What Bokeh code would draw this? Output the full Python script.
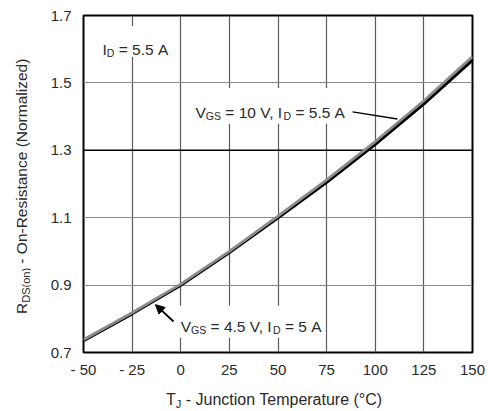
from bokeh.plotting import figure
from bokeh.models import Range1d, FixedTicker, Label, Arrow, NormalHead, Span, Div
from bokeh.layouts import column, row
from bokeh.embed import file_html
from bokeh.resources import INLINE

# ---- data ----
temps = [-50, -25, 0, 25, 50, 75, 100, 125, 150]
r_vgs10 = [0.735, 0.815, 0.900, 0.997, 1.100, 1.205, 1.318, 1.438, 1.568]
r_vgs45 = [0.738, 0.818, 0.903, 1.000, 1.105, 1.212, 1.326, 1.447, 1.578]
x_ticks = [-50, -25, 0, 25, 50, 75, 100, 125, 150]
x_tick_labels = ["- 50", "- 25", "0", "25", "50", "75", "100", "125", "150"]
y_ticks = [0.7, 0.9, 1.1, 1.3, 1.5, 1.7]
y_tick_labels = ["0.7", "0.9", "1.1", "1.3", "1.5", "1.7"]
x_title = ("T", "J", " - Junction Temperature (°C)")
y_title = ("R", "DS(on)", " - On-Resistance (Normalized)")

FONT = "Liberation Sans"
TEXT = "#2a2a2a"
NB = "\u00a0"

W = {' ': .278, NB: .278, '-': .333, '=': .584, '.': .278, ',': .278, '(': .333,
     ')': .333, '°': .4, 'A': .667, 'C': .722, 'D': .722, 'G': .778, 'I': .278,
     'J': .5, 'N': .722, 'O': .778, 'R': .722, 'S': .667, 'T': .611, 'V': .667,
     'a': .556, 'c': .5, 'd': .556, 'e': .556, 'i': .222, 'l': .222, 'm': .833,
     'n': .556, 'o': .556, 'p': .556, 'r': .333, 's': .5, 't': .278, 'u': .556,
     'z': .5}


def tw(s, size):
    return sum(W.get(c, .556) for c in s) * size


def rich(p, x, y, pieces, size=15.5, sub=10.5):
    pos = 0.0
    for text, is_sub in pieces:
        text = text.replace(" ", NB)
        fs = sub if is_sub else size
        p.add_layout(Label(x=x, y=y, x_offset=pos, y_offset=-3 if is_sub else 0,
                           text=text, text_font=FONT,
                           text_font_size=f"{fs}px", text_color=TEXT,
                           text_align="left", text_baseline="alphabetic"))
        pos += tw(text, fs)


p = figure(width=458, height=380, output_backend="svg", toolbar_location=None,
           x_range=Range1d(-50, 150), y_range=Range1d(0.7, 1.7),
           min_border_left=53, min_border_right=16, min_border_top=15,
           min_border_bottom=27, margin=0)
p.background_fill_color = "white"
p.border_fill_color = "white"
p.outline_line_color = "black"
p.outline_line_width = 2

p.xaxis.ticker = FixedTicker(ticks=x_ticks)
p.yaxis.ticker = FixedTicker(ticks=y_ticks)
p.xaxis.major_label_overrides = {t: l for t, l in zip(x_ticks, x_tick_labels)}
p.yaxis.major_label_overrides = {t: l for t, l in zip(y_ticks, y_tick_labels)}
for ax in (p.xaxis, p.yaxis):
    ax.axis_line_color = None
    ax.major_tick_in = 0
    ax.major_tick_out = 0
    ax.minor_tick_in = 0
    ax.minor_tick_out = 0
    ax.major_label_text_font = FONT
    ax.major_label_text_font_size = "15px"
    ax.major_label_text_color = TEXT
p.xaxis.major_label_standoff = 8
p.yaxis.major_label_standoff = 12

p.xgrid.grid_line_color = "#5a5a5a"
p.xgrid.grid_line_width = 1.2
p.ygrid.grid_line_color = "#8a8a8a"
p.ygrid.grid_line_width = 1.2
p.add_layout(Span(location=1.3, dimension="width", line_color="black",
                  line_width=1.6, level="underlay"))

# white boxes behind the in-plot annotations (interrupt the grid)
p.quad(left=[-42.8, 4.0, -2.2], right=[-4.2, 91.4, 73.9],
       bottom=[1.577, 1.379, 0.744], top=[1.669, 1.485, 0.839],
       fill_color="white", line_color=None)

# curves
p.line(temps, r_vgs10, line_color="black", line_width=3.2)
p.line(temps, r_vgs45, line_color="#8c8c8c", line_width=2.8)

# annotations
rich(p, -40.2, 1.598, [("I", False), ("D", True), (" = 5.5 A", False)])
rich(p, 7.6, 1.411, [("V", False), ("GS", True), (" = 10 V, I", False),
                     ("D", True), (" = 5.5 A", False)])
rich(p, 0.0, 0.777, [("V", False), ("GS", True), (" = 4.5 V, I", False),
                     ("D", True), (" = 5 A", False)])

p.segment(x0=[88.3], y0=[1.414], x1=[111.4], y1=[1.393],
          line_color="black", line_width=1.5)
p.add_layout(Arrow(end=NormalHead(size=9, fill_color="black", line_color="black"),
                   x_start=-3.7, y_start=0.792, x_end=-13.0, y_end=0.842,
                   line_color="black", line_width=1.8))

# axis titles with subscripts as HTML text
def font_css(size):
    return (f"font-family:'{FONT}';font-size:{size}px;line-height:16px;"
            f"color:{TEXT};white-space:nowrap;")


sub_css = "font-size:11px;vertical-align:-3px;line-height:0;"

xdiv = Div(width=488, height=31, margin=0, text=(
    f'<div style="position:relative;width:488px;height:31px;">'
    f'<div style="position:absolute;left:166px;top:12px;{font_css(16)}">'
    f'{x_title[0]}<span style="{sub_css}">{x_title[1]}</span>{x_title[2]}</div></div>'))

ydiv = Div(width=30, height=380, margin=0, text=(
    f'<div style="position:relative;width:30px;height:380px;">'
    f'<div style="position:absolute;left:14px;top:314px;transform:rotate(-90deg);'
    f'transform-origin:left top;{font_css(15.5)}">'
    f'{y_title[0]}<span style="{sub_css}">{y_title[1]}</span>{y_title[2]}</div></div>'))

layout = column(row(ydiv, p, spacing=0, margin=0), xdiv, spacing=0, margin=0)

open("out.html", "w").write(file_html(layout, INLINE))
